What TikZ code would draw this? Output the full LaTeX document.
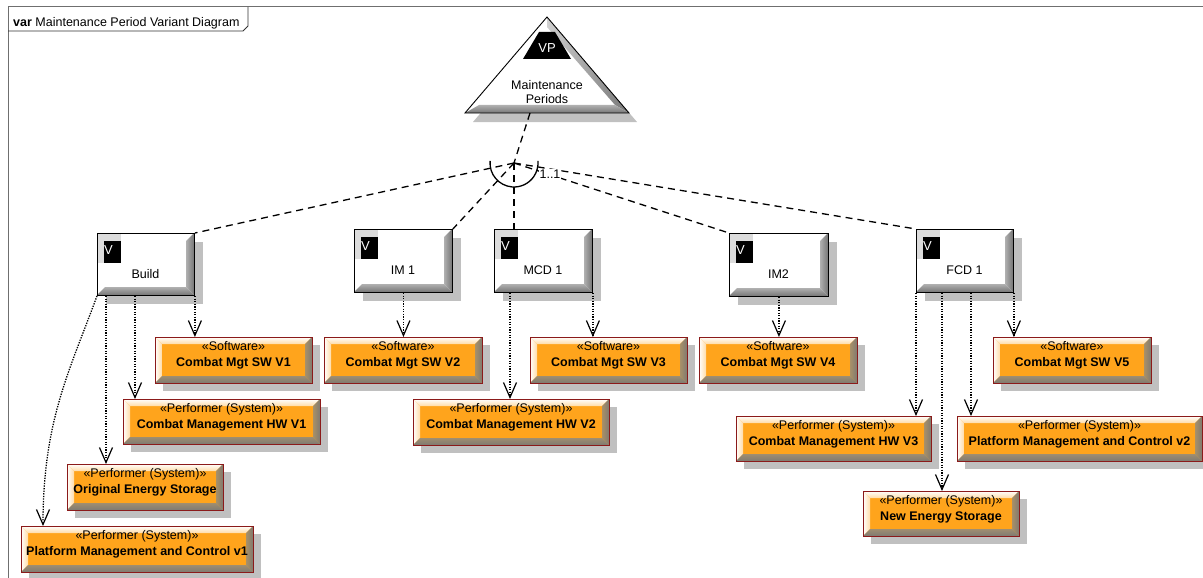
\documentclass[tikz,border=0pt]{standalone}
\usepackage{fontspec}
\setmainfont{Liberation Sans}
\usetikzlibrary{arrows.meta,calc}
\definecolor{shd}{HTML}{C0C0C0}
\definecolor{orfill}{HTML}{FFA41C}
\definecolor{orlite}{HTML}{FFDCA8}
\definecolor{orRa}{HTML}{A89068}
\definecolor{orRb}{HTML}{807A70}
\definecolor{orBa}{HTML}{A08E70}
\definecolor{orBb}{HTML}{7E7A72}
\definecolor{orborder}{HTML}{8B1A1A}
\definecolor{bevA}{HTML}{B0B0B0}
\definecolor{bevB}{HTML}{767676}
\definecolor{tabgray}{HTML}{DCDCDC}
\definecolor{framegray}{HTML}{6F6F6F}
\newcommand\fs{\fontsize{12.5}{15}\selectfont}
\newcommand\mkvar[6]{%
  \fill[shd] (#2+9,#3+9) rectangle (#4+9,#5+9);
  \fill[white] (#2,#3) rectangle (#4,#5);
  \shade[left color=bevA, right color=bevB] (#4,#3) -- (#4,#5) -- (#4-8,#5-8) -- (#4-8,#3+8) -- cycle;
  \shade[top color=bevA, bottom color=bevB] (#2,#5) -- (#4,#5) -- (#4-8,#5-8) -- (#2+8,#5-8) -- cycle;
  \fill[tabgray] (#2,#3) rectangle (#2+24,#3+30);
  \fill[black] (#2+7,#3+8) rectangle (#2+24,#3+30);
  \node[white, anchor=base, inner sep=0, font=\fontsize{13}{15}\selectfont] (#1-v) at (#2+11.5,#3+21) {V};
  \node[draw=black, line width=0.9pt, inner sep=0, minimum width={#4pt-#2pt}, minimum height={#5pt-#3pt}, anchor=north west] (#1) at (#2,#3) {};
  \node[anchor=base, inner sep=0, font=\fs] (#1-t) at ({(#2+#4)/2},#3+45.5) {#6};
}
\newcommand\mkorange[7]{%
  \fill[shd] (#2+8,#3+8) rectangle (#4+8,#5+8);
  \fill[orfill] (#2,#3) rectangle (#4,#5);
  \shade[top color=white, bottom color=orlite] (#2,#3) -- (#4,#3) -- (#4-7,#3+7) -- (#2+7,#3+7) -- cycle;
  \shade[left color=white, right color=orlite] (#2,#3) -- (#2+7,#3+7) -- (#2+7,#5-7) -- (#2,#5) -- cycle;
  \shade[left color=orRa, right color=orRb] (#4,#3) -- (#4,#5) -- (#4-7,#5-7) -- (#4-7,#3+7) -- cycle;
  \shade[top color=orBa, bottom color=orBb] (#2,#5) -- (#4,#5) -- (#4-7,#5-7) -- (#2+7,#5-7) -- cycle;
  \node[draw=orborder, line width=0.9pt, inner sep=0, minimum width={#4pt-#2pt}, minimum height={#5pt-#3pt}, anchor=north west] (#1) at (#2,#3) {};
  \node[anchor=base, inner sep=0, font=\fs] (#1-s) at ({(#2+#4)/2},#3+13.5) {#6};
  \node[anchor=base, inner sep=0, font=\fs\bfseries] (#1-n) at ({(#2+#4)/2},#3+29.5) {#7};
}
\tikzset{
  dashln/.style={black, line width=1.3pt, dash pattern=on 7pt off 5pt},
  depln/.style={black, line width=1.3pt, dash pattern=on 1.3pt off 1.3pt, -{Straight Barb[length=15pt,width=13pt,line width=1.2pt]}}
}
\begin{document}
\begin{tikzpicture}[x=1pt,y=-1pt]
\useasboundingbox (0,0) rectangle (1203,578);
% frame
\draw[framegray, line width=1pt] (1210,7) -- (8,7) -- (8,590);
\draw[black!80, line width=0.8pt] (8,31) -- (243,31) -- (248,26) -- (248,7);
\node[anchor=base west, inner sep=0, font=\fs] (title) at (13,26.5) {\textbf{var} Maintenance Period Variant Diagram};
% VP triangle
\fill[shd] (555,26) -- (637,122) -- (473,122) -- cycle;
\fill[white] (547,17) -- (629,113) -- (465,113) -- cycle;
\shade[left color=bevA!60, right color=bevB] (547,17) -- (629,113) -- (615,105) -- (547,27) -- cycle;
\shade[top color=bevA, bottom color=bevB] (465,113) -- (629,113) -- (615,105) -- (479,105) -- cycle;
\fill[black] (539,32) -- (555,32) -- (571,59) -- (523,59) -- cycle;
\draw[black, line width=0.9pt] (547,17) -- (629,113) -- (465,113) -- cycle;
\node[white, inner sep=0, font=\fontsize{13}{15}\selectfont] (vplabel) at (547,48) {VP};
\node[inner sep=0, font=\fs, align=center] (vpname1) at (547,85) {Maintenance};
\node[inner sep=0, font=\fs, align=center] (vpname2) at (547,99.5) {Periods};
\coordinate (vpb) at (530,113);
\coordinate (J) at (514,163);
% variants
\mkvar{build}{97}{233}{194}{295}{Build}
\mkvar{im1}{354}{229}{452}{292}{IM 1}
\mkvar{mcd1}{494}{229}{592}{292}{MCD 1}
\mkvar{im2}{729}{233}{828}{296}{IM2}
\mkvar{fcd1}{916}{229}{1013}{292}{FCD 1}
% orange elements
\mkorange{sw1}{155}{337}{312}{383}{«Software»}{Combat Mgt SW V1}
\mkorange{hw1}{123}{399}{320}{444}{«Performer (System)»}{Combat Management HW V1}
\mkorange{oes}{67}{464}{223}{510}{«Performer (System)»}{Original Energy Storage}
\mkorange{pmc1}{21}{526}{253}{572}{«Performer (System)»}{Platform Management and Control v1}
\mkorange{sw2}{324}{337}{482}{383}{«Software»}{Combat Mgt SW V2}
\mkorange{hw2}{413}{399}{609}{445}{«Performer (System)»}{Combat Management HW V2}
\mkorange{sw3}{530}{337}{687}{383}{«Software»}{Combat Mgt SW V3}
\mkorange{sw4}{699}{337}{857}{383}{«Software»}{Combat Mgt SW V4}
\mkorange{hw3}{736}{416}{931}{461}{«Performer (System)»}{Combat Management HW V3}
\mkorange{sw5}{993}{337}{1151}{383}{«Software»}{Combat Mgt SW V5}
\mkorange{pmc2}{957}{416}{1202}{461}{«Performer (System)»}{Platform Management and Control v2}
\mkorange{nes}{863}{491}{1019}{536}{«Performer (System)»}{New Energy Storage}
% variation point connectors
\draw[dashln] (vpb) -- (J);
\draw[dashln] (J) -- (build.north east);
\draw[dashln] (J) -- (im1.north east);
\draw[dashln] (J) -- (J |- mcd1.north);
\draw[dashln] (J) -- (im2.north west);
\draw[dashln] (J) -- (fcd1.north west);
\draw[black, line width=1.3pt] (514,163) ++(175:24pt) arc[start angle=175, end angle=365, radius=24pt];
\node[fill=white, inner sep=0.5pt, font=\fs] (mult) at (550,174) {1..1};
% dependencies
\draw[depln] (build.south east) -- (build.south east |- sw1.north);
\draw[depln] ([xshift=38pt]build.south west) -- ([xshift=38pt]build.south west |- hw1.north);
\draw[depln] ([xshift=9pt]build.south west) -- ([xshift=9pt]build.south west |- oes.north);
\draw[depln] (build.south west) .. controls (70,370) and (43,420) .. ([xshift=22pt]pmc1.north west);
\draw[depln] (im1.south) -- (im1.south |- sw2.north);
\draw[depln] ([xshift=16pt]mcd1.south west) -- ([xshift=16pt]mcd1.south west |- hw2.north);
\draw[depln] (mcd1.south east) -- (mcd1.south east |- sw3.north);
\draw[depln] (im2.south) -- (im2.south |- sw4.north);
\draw[depln] (fcd1.south west) -- (fcd1.south west |- hw3.north);
\draw[depln] ([xshift=26pt]fcd1.south west) -- ([xshift=26pt]fcd1.south west |- nes.north);
\draw[depln] ([xshift=55pt]fcd1.south west) -- ([xshift=55pt]fcd1.south west |- pmc2.north);
\draw[depln] (fcd1.south east) -- (fcd1.south east |- sw5.north);
\end{tikzpicture}
\end{document}
